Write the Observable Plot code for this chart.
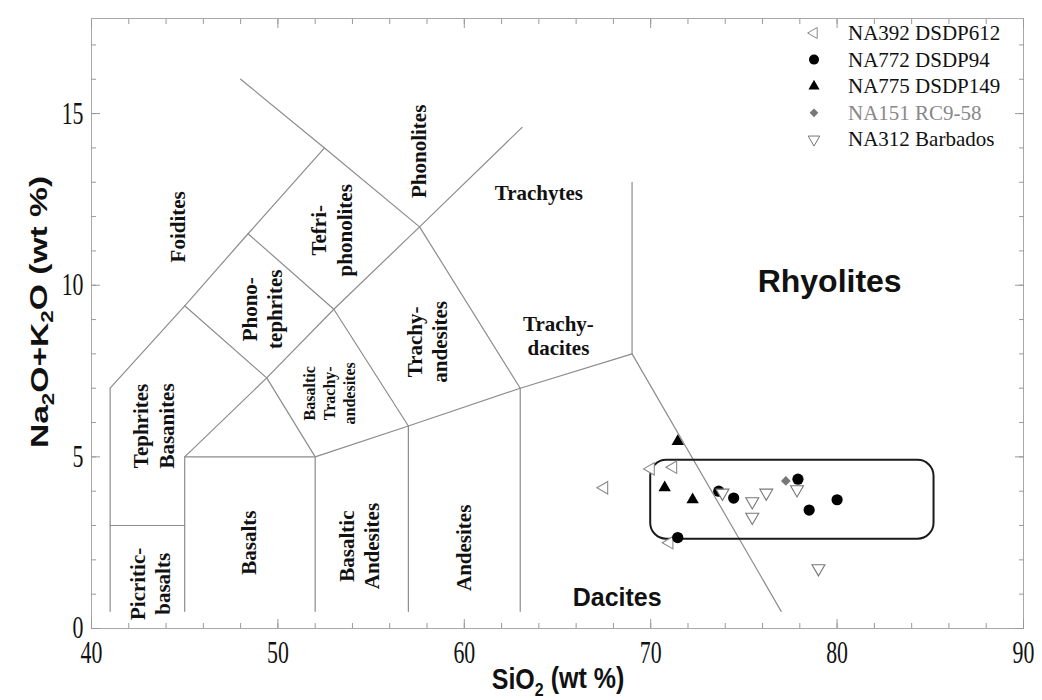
<!DOCTYPE html>
<html>
<head>
<meta charset="utf-8">
<script src="https://cdn.jsdelivr.net/npm/d3@7"></script>
<script src="https://cdn.jsdelivr.net/npm/@observablehq/plot@0.6"></script>
<style>
  body { margin: 0; background: #fff; }
  #chart svg { display: block; }
</style>
</head>
<body>
<div id="chart"></div>
<script>
// ---- Sample analyses: [SiO2 wt%, Na2O+K2O wt%] ----
const na392 = [[67.5, 4.1], [70.0, 4.65], [71.2, 4.7], [71.0, 2.5]];
const na772 = [[71.45, 2.65], [73.65, 4.0], [74.45, 3.8], [77.9, 4.35], [78.5, 3.45], [80.0, 3.75]];
const na775 = [[71.45, 5.45], [70.75, 4.1], [72.25, 3.75]];
const na151 = [[77.25, 4.3]];
const na312 = [[73.85, 3.95], [75.45, 3.7], [75.45, 3.25], [76.2, 3.95], [77.85, 4.05], [79.0, 1.75]];

const seriesNames = ["NA392 DSDP612", "NA772 DSDP94", "NA775 DSDP149", "NA151 RC9-58", "NA312 Barbados"];

// ---- TAS field boundaries (Le Bas et al.) ----
const boundaryA = [[41, 0.5], [41, 7], [45, 9.4], [48.4, 11.5], [52.5, 14]];
const boundaryB = [[48, 16], [52.5, 14], [57.6, 11.7], [63, 7], [63, 0.5]];
const boundaryC = [[45, 0.5], [45, 5], [49.4, 7.3], [53, 9.3], [57.6, 11.7], [63.1, 14.6]];
const boundaryD = [[45, 9.4], [49.4, 7.3], [52, 5], [52, 0.5]];
const boundaryE = [[48.4, 11.5], [53, 9.3], [57, 5.9], [57, 0.5]];
const boundaryF = [[45, 5], [52, 5], [57, 5.9], [63, 7], [69, 8], [69, 13]];
const boundaryG = [[69, 8], [77, 0.5]];
const boundaryH = [[41, 3], [45, 3]];

// Outline grouping the analyses: SiO2 and alkali extent
const groupBox = [{x1: 70.0, x2: 85.2, y1: 2.6, y2: 4.9}];

// ---- Field names ----
const verticalLabels = [
  {x: 44.6, y: 11.7, text: "Foidites"},
  {x: 52.85, y: 11.6, text: "Tefri-\nphonolites"},
  {x: 57.5, y: 13.9, text: "Phonolites"},
  {x: 49.1, y: 9.3, text: "Phono-\ntephrites"},
  {x: 57.95, y: 8.35, text: "Trachy-\nandesites"},
  {x: 43.3, y: 5.9, text: "Tephrites\nBasanites"},
  {x: 43.1, y: 1.3, text: "Picritic-\nbasalts"},
  {x: 48.4, y: 2.5, text: "Basalts"},
  {x: 54.3, y: 2.4, text: "Basaltic\nAndesites"},
  {x: 59.9, y: 2.35, text: "Andesites"}
];
const smallVerticalLabels = [
  {x: 52.7, y: 6.85, text: "Basaltic\nTrachy-\nandesites"}
];
const horizontalLabels = [
  {x: 64.0, y: 12.7, text: "Trachytes"},
  {x: 65.05, y: 8.55, text: "Trachy-\ndacites"}
];
const sansLabels = [
  {x: 79.6, y: 10.1, text: "Rhyolites", size: 32},
  {x: 68.2, y: 0.88, text: "Dacites", size: 25}
];

// ---- Axis ticks ----
const xTickLabels = [40, 50, 60, 70, 80, 90];
const xMinorTicks = d3.range(40, 91, 2);
const yTickLabels = [0, 5, 10, 15];
const yMinorTicks = d3.range(0, 18, 1);

// ---- Symbols ----
const s3 = Math.sqrt(3);
function triangle(dir) {
  return {
    draw(ctx, size) {
      const h = Math.sqrt(size / (s3 * 3));
      let pts = [[0, -2 * h], [-s3 * h, h], [s3 * h, h]];
      if (dir === "down") pts = pts.map(([a, b]) => [a, -b]);
      if (dir === "left") pts = pts.map(([a, b]) => [b, a]);
      ctx.moveTo(pts[0][0], pts[0][1]);
      ctx.lineTo(pts[1][0], pts[1][1]);
      ctx.lineTo(pts[2][0], pts[2][1]);
      ctx.closePath();
    }
  };
}
const triUp = triangle("up"), triDown = triangle("down"), triLeft = triangle("left");

const styles = [
  {data: na392, symbol: triLeft, fill: "#fff", stroke: "#8a8a8a", r: 4.6, text: "#111"},
  {data: na772, symbol: "circle", fill: "#000", stroke: "none", r: 5.6, text: "#111"},
  {data: na775, symbol: triUp, fill: "#000", stroke: "none", r: 4.6, text: "#111"},
  {data: na151, symbol: "diamond2", fill: "#777", stroke: "none", r: 4.4, text: "#888"},
  {data: na312, symbol: triDown, fill: "#fff", stroke: "#777", r: 4.8, text: "#111"}
];

const boundaryRows = [boundaryA, boundaryB, boundaryC, boundaryD, boundaryE, boundaryF, boundaryG, boundaryH]
  .flatMap((pts, id) => pts.map(([x, y]) => ({id, x, y})));

const tickStroke = "#9a9a9a";
const serif = "Liberation Serif, Times New Roman, serif";
const sans = "Liberation Sans, Arial, sans-serif";

const plot = Plot.plot({
  width: 1042,
  height: 700,
  marginLeft: 91,
  marginRight: 19,
  marginTop: 18,
  marginBottom: 72,
  x: {domain: [40, 90]},
  y: {domain: [0, 17.77]},
  style: {fontFamily: serif, fontSize: "24px", color: "#111", background: "#fff"},
  marks: [
    Plot.frame({stroke: "#a8a8a8"}),
    // inward ticks on all four sides
    Plot.axisX(xMinorTicks, {anchor: "bottom", tickSize: 5, dy: -5, tickFormat: () => "", stroke: tickStroke, label: null}),
    Plot.axisX(xTickLabels, {anchor: "bottom", tickSize: 9, dy: -9, tickFormat: () => "", stroke: tickStroke, label: null}),
    Plot.axisX(xMinorTicks, {anchor: "top", tickSize: 5, dy: 5, tickFormat: () => "", stroke: tickStroke, label: null}),
    Plot.axisX(xTickLabels, {anchor: "top", tickSize: 9, dy: 9, tickFormat: () => "", stroke: tickStroke, label: null}),
    Plot.axisY(yMinorTicks, {anchor: "left", tickSize: 5, dx: 5, tickFormat: () => "", stroke: tickStroke, label: null}),
    Plot.axisY(yTickLabels, {anchor: "left", tickSize: 9, dx: 9, tickFormat: () => "", stroke: tickStroke, label: null}),
    Plot.axisY(yMinorTicks, {anchor: "right", tickSize: 5, dx: -5, tickFormat: () => "", stroke: tickStroke, label: null}),
    Plot.axisY(yTickLabels, {anchor: "right", tickSize: 9, dx: -9, tickFormat: () => "", stroke: tickStroke, label: null}),
    // tick labels
    Plot.axisX(xTickLabels, {anchor: "bottom", tickSize: 0, tickPadding: 12, label: null, fontSize: 23, fontFamily: serif}),
    Plot.axisY(yTickLabels, {anchor: "left", tickSize: 0, tickPadding: 8, label: null, fontSize: 23, fontFamily: serif}),
    // field boundaries
    Plot.line(boundaryRows, {x: "x", y: "y", z: "id", stroke: "#8c8c8c", strokeWidth: 1.2}),
    // field names
    Plot.text(verticalLabels, {x: "x", y: "y", text: "text", rotate: -90, fontFamily: serif, fontWeight: "bold", fontSize: 21, lineHeight: 1.2, fill: "#111"}),
    Plot.text(smallVerticalLabels, {x: "x", y: "y", text: "text", rotate: -90, fontFamily: serif, fontWeight: "bold", fontSize: 16, lineHeight: 1.25, fill: "#111"}),
    Plot.text(horizontalLabels, {x: "x", y: "y", text: "text", fontFamily: serif, fontWeight: "bold", fontSize: 21, lineHeight: 1.15, fill: "#111"}),
    Plot.text(sansLabels, {x: "x", y: "y", text: "text", fontFamily: sans, fontWeight: "bold", fontSize: "size", fill: "#111"}),
    // grouping outline
    Plot.rect(groupBox, {x1: "x1", x2: "x2", y1: "y1", y2: "y2", rx: 16, fill: "none", stroke: "#1a1a1a", strokeWidth: 2}),
    // samples
    ...styles.map(s => Plot.dot(s.data, {
      x: d => d[0], y: d => d[1], symbol: s.symbol, r: s.r,
      fill: s.fill, stroke: s.stroke, strokeWidth: 1.1
    }))
  ]
});

document.getElementById("chart").appendChild(plot);

const svg = d3.select(plot);

// Tall, narrow numerals for the tick labels
svg.selectAll("g[aria-label$='tick label'] text").each(function () {
  if (!this.textContent) return;
  const tr = this.getAttribute("transform") || "";
  this.setAttribute("transform", tr + " scale(0.95,1.35)");
});

// Legend inside the upper right corner
const legend = svg.append("g").attr("class", "legend").attr("text-anchor", "start");
styles.forEach((s, i) => {
  const cy = 33 + i * 26.6;
  const sym = typeof s.symbol === "string"
    ? (s.symbol === "circle" ? d3.symbolCircle : d3.symbolDiamond2)
    : s.symbol;
  legend.append("path")
    .attr("d", d3.symbol(sym, Math.PI * s.r * s.r * 0.8)())
    .attr("transform", `translate(814,${cy})`)
    .attr("fill", s.fill)
    .attr("stroke", s.stroke)
    .attr("stroke-width", 1);
  legend.append("text")
    .attr("x", 848)
    .attr("y", cy + 7)
    .attr("text-anchor", "start")
    .style("font-family", serif)
    .style("font-size", "21px")
    .attr("fill", s.text)
    .text(seriesNames[i]);
});

// Axis titles with subscripts
const xTitle = svg.append("text")
  .attr("transform", "translate(558,689) scale(1,1.2)")
  .attr("text-anchor", "middle")
  .style("font-family", sans)
  .style("font-weight", "bold")
  .style("font-size", "25px")
  .attr("fill", "#111");
xTitle.append("tspan").text("SiO");
xTitle.append("tspan").style("font-size", "16px").attr("dy", "0.35em").text("2");
xTitle.append("tspan").attr("dy", "-0.25em").text(" (wt %)");

const yTitle = svg.append("text")
  .attr("transform", "translate(48,312) rotate(-90) scale(1.4,1)")
  .attr("text-anchor", "middle")
  .style("font-family", sans)
  .style("font-weight", "bold")
  .style("font-size", "24px")
  .attr("fill", "#111");
yTitle.append("tspan").text("Na");
yTitle.append("tspan").style("font-size", "16px").attr("dy", "0.35em").text("2");
yTitle.append("tspan").attr("dy", "-0.25em").text("O+K");
yTitle.append("tspan").style("font-size", "16px").attr("dy", "0.35em").text("2");
yTitle.append("tspan").attr("dy", "-0.25em").text("O (wt %)");
</script>
</body>
</html>
